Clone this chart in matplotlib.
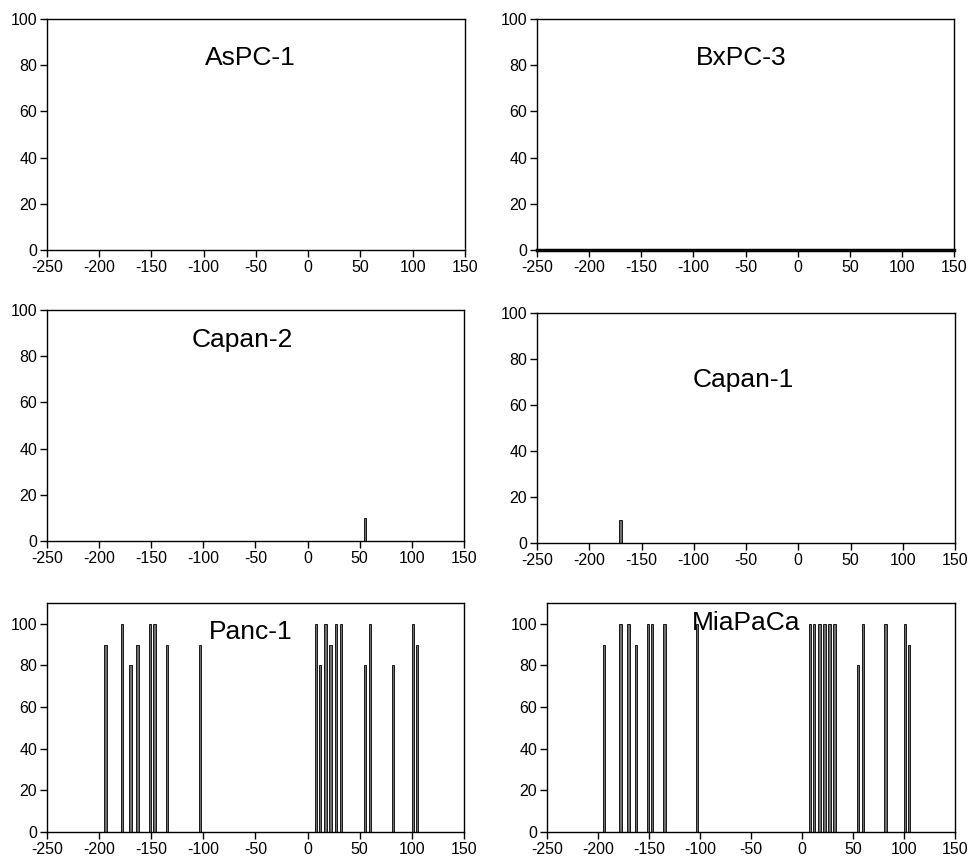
import matplotlib
matplotlib.use("Agg")
import matplotlib.pyplot as plt

plt.rcParams['font.family'] = ['Liberation Sans', 'DejaVu Sans']
plt.rcParams['axes.unicode_minus'] = False

# ---- data ----
x_ticks = [-250, -200, -150, -100, -50, 0, 50, 100, 150]
y_ticks = [0, 20, 40, 60, 80, 100]

aspc1_pos = []
aspc1_val = []

bxpc3_pos = []
bxpc3_val = []

capan2_pos = [55]
capan2_val = [10]

capan1_pos = [-170]
capan1_val = [10]

panc1_pos = [-194, -178, -170, -163, -151, -147, -135, -103, 8, 12, 17, 22, 27, 32, 55, 60, 82, 101, 105]
panc1_val = [90, 100, 80, 90, 100, 100, 90, 90, 100, 80, 100, 90, 100, 100, 80, 100, 80, 100, 90]

mia_pos = [-194, -178, -170, -163, -151, -147, -135, -103, 8, 12, 17, 22, 27, 32, 55, 60, 82, 101, 105]
mia_val = [90, 100, 100, 90, 100, 100, 100, 100, 100, 100, 100, 100, 100, 100, 80, 100, 100, 100, 90]

names = ["AsPC-1", "BxPC-3", "Capan-2", "Capan-1", "Panc-1", "MiaPaCa"]
positions = [aspc1_pos, bxpc3_pos, capan2_pos, capan1_pos, panc1_pos, mia_pos]
values = [aspc1_val, bxpc3_val, capan2_val, capan1_val, panc1_val, mia_val]

W, H = 970, 857
fig = plt.figure(figsize=(W / 100, H / 100), dpi=100)

# axes boxes in pixels: left, right, top, bottom
boxes = [
    (47, 465, 19, 250),
    (537, 954, 19, 250),
    (47, 464, 310, 541),
    (537, 955, 313, 543),
    (47, 464, 603, 832),
    (547, 955, 603, 832),
]
ytops = [100, 100, 100, 100, 110, 110]
label_xy = [(-55, 83), (-54, 83), (-63, 87), (-53, 71), (-55, 96), (-55, 100.5)]

for i in range(6):
    l, r, t, b = boxes[i]
    ax = fig.add_axes([l / W, 1 - b / H, (r - l) / W, (b - t) / H])
    if positions[i]:
        ax.bar(positions[i], values[i], width=2.4, color='#6e6e6e',
               edgecolor='black', linewidth=0.6, align='center')
    ax.set_xlim(-250, 150)
    ax.set_ylim(0, ytops[i])
    ax.set_xticks(x_ticks)
    ax.set_yticks(y_ticks)
    ax.tick_params(direction='out', length=5, width=1, labelsize=11.5,
                   colors='black', pad=2)
    for s in ax.spines.values():
        s.set_color('black')
        s.set_linewidth(1)
    if i == 1:
        ax.spines['bottom'].set_linewidth(2.5)
    ax.text(label_xy[i][0], label_xy[i][1], names[i], ha='center',
            va='center', fontsize=19, color='black')

fig.savefig("out.png", dpi=100)
